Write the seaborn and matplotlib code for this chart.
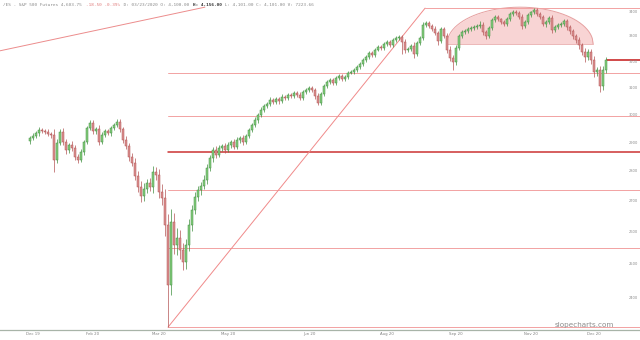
import numpy as np
import pandas as pd
import matplotlib
matplotlib.use("Agg")
import matplotlib.pyplot as plt
import matplotlib.transforms as mtransforms
from matplotlib.ticker import NullLocator
import seaborn as sns

# ---------------- data ----------------
closes = [
    2916, 2923, 2934, 2945, 2941, 2938, 2930, 2927, 2840, 2899,
    2938, 2902, 2874, 2892, 2881, 2850, 2840, 2867, 2902, 2952,
    2970, 2941, 2948, 2902, 2927, 2941, 2934, 2952, 2963, 2974,
    2948, 2909, 2888, 2850, 2829, 2785, 2748, 2718, 2741, 2761,
    2748, 2798, 2788, 2731, 2711, 2623, 2439, 2633, 2560, 2582,
    2545, 2507, 2560, 2623, 2672, 2715, 2738, 2751, 2771, 2812,
    2847, 2874, 2857, 2881, 2888, 2874, 2892, 2902, 2885, 2909,
    2916, 2902, 2923, 2945, 2963, 2981, 2999, 3018, 3033, 3040,
    3055, 3047, 3059, 3051, 3066, 3062, 3073, 3070, 3081, 3073,
    3062, 3085, 3092, 3099, 3092, 3070, 3044, 3077, 3107, 3122,
    3130, 3118, 3137, 3145, 3134, 3141, 3157, 3161, 3168, 3180,
    3192, 3207, 3219, 3235, 3227, 3247, 3259, 3255, 3270, 3278,
    3266, 3286, 3294, 3298, 3278, 3247, 3251, 3262, 3231, 3274,
    3294, 3347, 3355, 3343, 3331, 3314, 3282, 3331, 3302, 3247,
    3215, 3199, 3255, 3302, 3318, 3322, 3331, 3335, 3339, 3343,
    3347, 3318, 3302, 3335, 3367, 3380, 3371, 3359, 3351, 3371,
    3392, 3400, 3396, 3380, 3343, 3359, 3388, 3400, 3408, 3392,
    3380, 3351, 3359, 3376, 3327, 3339, 3347, 3351, 3363, 3339,
    3322, 3302, 3286, 3266, 3239, 3219, 3239, 3207, 3161, 3168,
    3107, 3168, 3207,
]
first_open = 2905
wick_hi = [
    8, 10, 6, 9, 7, 8, 10, 6, 20, 12,
    9, 14, 10, 8, 12, 10, 9, 11, 8, 7,
    9, 12, 8, 14, 10, 7, 9, 8, 6, 10,
    12, 9, 14, 10, 12, 16, 15, 20, 18, 14,
    16, 22, 18, 20, 25, 30, 35, 40, 28, 30,
    25, 22, 20, 18, 16, 14, 14, 12, 15, 12,
    10, 12, 14, 9, 8, 12, 10, 8, 11, 9,
    8, 10, 9, 8, 7, 9, 8, 10, 7, 8,
    9, 7, 8, 6, 9, 8, 7, 9, 6, 8,
    10, 8, 7, 9, 6, 8, 12, 9, 8, 7,
    9, 8, 7, 9, 6, 8, 7, 6, 8, 7,
    8, 6, 7, 9, 6, 8, 7, 6, 8, 7,
    9, 7, 6, 8, 10, 12, 9, 8, 14, 9,
    8, 10, 7, 9, 8, 12, 10, 9, 8, 12,
    14, 10, 12, 8, 7, 9, 6, 8, 7, 9,
    14, 10, 9, 8, 7, 8, 9, 6, 8, 7,
    6, 8, 7, 9, 10, 8, 7, 6, 8, 9,
    10, 8, 9, 7, 12, 8, 9, 7, 8, 10,
    9, 10, 8, 12, 9, 14, 10, 12, 15, 12,
    14, 16, 10,
]
wick_lo = [
    9, 7, 8, 10, 6, 9, 8, 10, 42, 12,
    8, 10, 14, 9, 11, 12, 10, 8, 9, 8,
    7, 12, 9, 10, 8, 9, 7, 10, 8, 9,
    10, 12, 9, 14, 12, 15, 18, 22, 16, 14,
    15, 20, 16, 22, 25, 35, 123, 30, 28, 32,
    28, 25, 22, 20, 18, 15, 14, 16, 12, 14,
    12, 15, 10, 9, 12, 10, 8, 11, 9, 8,
    9, 11, 8, 7, 9, 8, 10, 7, 8, 9,
    8, 9, 7, 10, 8, 9, 7, 8, 9, 7,
    9, 8, 10, 7, 9, 12, 10, 9, 8, 7,
    8, 9, 7, 8, 9, 7, 8, 6, 9, 7,
    7, 9, 8, 7, 9, 8, 6, 9, 8, 7,
    8, 9, 7, 8, 48, 12, 10, 9, 15, 10,
    8, 9, 7, 10, 8, 9, 18, 10, 9, 14,
    12, 31, 10, 9, 8, 7, 9, 8, 7, 9,
    8, 10, 12, 9, 8, 7, 9, 8, 10, 8,
    7, 8, 9, 7, 12, 9, 8, 7, 9, 8,
    9, 10, 12, 9, 14, 10, 8, 9, 10, 12,
    10, 12, 14, 16, 14, 20, 12, 14, 18, 16,
    22, 15, 10,
]
date_labels = ["Dec 19", "Feb 20", "Mar 20", "May 20", "Jun 20",
               "Aug 20", "Sep 20", "Nov 20", "Dec 20"]
date_bars = [1, 21, 43, 66, 93, 119, 142, 167, 188]
price_ticks = [2400, 2500, 2600, 2700, 2800, 2900, 3000, 3100, 3200, 3300, 3400]

# Fibonacci retracement drawn on the chart
fib_low, fib_high = 2316, 3416
fib_low_bar, fib_high_bar = 46, 131.7
fib_ratios = [0.0, 0.236, 0.382, 0.5, 0.618, 0.786, 1.0]

# old trend line (bar, price) anchors
old_trend_bars = [-10, 58.3]
old_trend_prices = [3243, 3420]

# rounded-top (dome) annotation
dome_left_bar, dome_right_bar = 139, 187.7
dome_base, dome_top = 3270, 3420

title_parts = [
    ("/ES - S&P 500 Futures 4,603.75 ", "#8a8a8a", "normal"),
    ("-18.50 -0.39%", "#e07a7a", "normal"),
    (" D: 03/23/2020 O: 4,100.00 ", "#8a8a8a", "normal"),
    ("H: 4,156.00", "#333333", "bold"),
    (" L: 4,101.00 C: 4,101.00 V: 7223.66", "#8a8a8a", "normal"),
]

# ---------------- build table ----------------
opens = [first_open] + closes[:-1]
df = pd.DataFrame({"open": opens, "close": closes,
                   "whi": wick_hi, "wlo": wick_lo})
df["bar"] = np.arange(len(df))
df["high"] = df[["open", "close"]].max(axis=1) + df["whi"]
df["low"] = df[["open", "close"]].min(axis=1) - df["wlo"]
df["up"] = df["close"] >= df["open"]

# ---------------- style ----------------
sns.set_theme(style="white")
plt.rcParams["font.family"] = ["DejaVu Sans"]

fig = plt.figure(figsize=(6.4, 3.4), dpi=100)
ax = fig.add_axes([0, 10 / 340, 1, 330 / 340])
ax.set_yscale("log")
ax.set_xlim(-10, 203.33)
ax.set_ylim(2308, 3450)
ax.yaxis.set_major_locator(NullLocator())
ax.yaxis.set_minor_locator(NullLocator())
ax.set_xticks(date_bars)
ax.set_xticklabels(date_labels)
ax.tick_params(axis="x", length=0, pad=1.2, labelsize=2.8, labelcolor="#808080")
for s in ["top", "left", "right"]:
    ax.spines[s].set_visible(False)
ax.spines["bottom"].set_color("#a8b4a8")
ax.spines["bottom"].set_linewidth(0.9)
ax.set_facecolor("white")

# dome
t = np.linspace(-1, 1, 200)
cx = (dome_left_bar + dome_right_bar) / 2
hw = (dome_right_bar - dome_left_bar) / 2
ly = np.log(dome_base) + (np.log(dome_top) - np.log(dome_base)) * np.sqrt(1 - t ** 2)
ax.fill_between(cx + hw * t, dome_base, np.exp(ly), color="#f6c6c6", alpha=0.75,
                linewidth=0, zorder=1)
ax.plot(cx + hw * t, np.exp(ly), color="#e6a0a0", lw=0.7, zorder=1)
ax.plot([dome_left_bar, dome_right_bar], [dome_base, dome_base], color="#eab0b0",
        lw=0.6, zorder=1)

# fibonacci levels
x_right = 203.33
for r in fib_ratios:
    lvl = fib_high - r * (fib_high - fib_low)
    start = fib_high_bar if r == 0.0 else fib_low_bar
    if r == 0.5:
        ax.plot([start, x_right], [lvl, lvl], color="#cc3333", lw=1.1, zorder=2)
    else:
        ax.plot([start, x_right], [lvl, lvl], color="#f2a2a2", lw=0.7, zorder=2)
ax.plot([fib_low_bar, fib_high_bar], [fib_low, fib_high], color="#f08a8a", lw=0.7, zorder=2)
ax.plot(old_trend_bars, old_trend_prices, color="#ec8c8c", lw=0.7, zorder=2)

# last price line
ax.plot([df["bar"].iloc[-1] + 0.4, x_right], [closes[-1], closes[-1]],
        color="#c92a2a", lw=1.2, zorder=2)

# candles
edge = np.where(df["up"], "#3f8f3f", "#b45555")
face = np.where(df["up"], "#86cc7e", "#d99090")
ax.vlines(df["bar"], df["low"], df["high"], colors=edge, lw=0.5, zorder=3)
heights = np.maximum((df["close"] - df["open"]).abs(), 1.5)
ax.bar(df["bar"], heights, bottom=df[["open", "close"]].min(axis=1), width=0.8,
       color=face, edgecolor=edge, linewidth=0.35, zorder=4)

# right price labels
tr = mtransforms.blended_transform_factory(ax.transAxes, ax.transData)
for p in price_ticks:
    ax.text(633 / 640, p, f"{p}", transform=tr, fontsize=2.6, color="#8a8a8a",
            ha="center", va="center", zorder=5)

# title (monospace, segmented)
char_px = 0.602 * 3.2 * 100 / 72
n = 0
for txt, col, wt in title_parts:
    ax.text((3 + n * char_px) / 640, 1 - 5 / 330, txt, transform=ax.transAxes,
            fontsize=3.2, family="DejaVu Sans Mono", color=col, weight=wt,
            ha="left", va="center", zorder=6)
    n += len(txt)

# watermark
ax.text(584 / 640, 1 - 325 / 330, "slopecharts.com", transform=ax.transAxes,
        fontsize=5.2, color="#8c8c8c", ha="center", va="center", zorder=6)

fig.savefig("out.png", dpi=100)
